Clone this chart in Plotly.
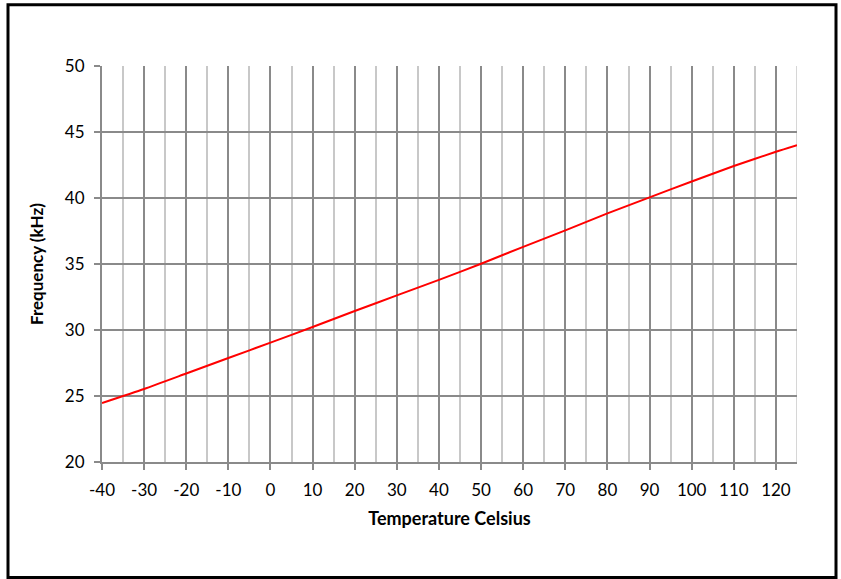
import plotly.graph_objects as go

# Oscillator frequency versus temperature
temperature_c = [-40, -30, -20, -10, 0, 10, 20, 30, 40, 50, 60, 70, 80, 90, 100, 110, 120, 125]
frequency_khz = [24.47, 25.53, 26.70, 27.88, 29.04, 30.23, 31.44, 32.62, 33.80, 35.02,
                 36.30, 37.55, 38.83, 40.05, 41.25, 42.42, 43.50, 44.00]

x_ticks = list(range(-40, 121, 10))
y_ticks = list(range(20, 51, 5))

FONT = "Lato"
MAJOR = "#8a8a8a"
MINOR = "#c8c8c8"

fig = go.Figure(
    go.Scatter(
        x=temperature_c,
        y=frequency_khz,
        mode="lines",
        line=dict(color="#ff0000", width=2, shape="spline", smoothing=0.6),
        hoverinfo="x+y",
    )
)

fig.update_layout(
    width=841,
    height=579,
    margin=dict(l=102, r=44, t=66, b=117),
    paper_bgcolor="white",
    plot_bgcolor="white",
    showlegend=False,
    font=dict(family=FONT, size=17, color="#000000"),
    xaxis=dict(
        range=[-40, 125],
        tickmode="array",
        tickvals=x_ticks,
        ticktext=[str(v) for v in x_ticks],
        showgrid=True,
        gridcolor=MAJOR,
        gridwidth=1.5,
        minor=dict(dtick=5, tick0=-35, showgrid=True, gridcolor=MINOR, gridwidth=1.5, ticks=""),
        ticks="outside",
        ticklen=6,
        tickcolor=MAJOR,
        tickwidth=1.5,
        ticklabelstandoff=6,
        showline=True,
        linecolor=MAJOR,
        linewidth=2,
        zeroline=False,
        tickfont=dict(family=FONT, size=17),
        title=dict(text="<b>Temperature Celsius</b>", font=dict(family=FONT, size=18), standoff=13),
    ),
    yaxis=dict(
        range=[20, 50],
        tickmode="array",
        tickvals=y_ticks,
        ticktext=[str(v) for v in y_ticks],
        showgrid=True,
        gridcolor=MAJOR,
        gridwidth=1.5,
        ticks="outside",
        ticklen=6,
        tickcolor=MAJOR,
        tickwidth=1.5,
        ticklabelstandoff=6,
        showline=True,
        linecolor=MAJOR,
        linewidth=2,
        zeroline=False,
        tickfont=dict(family=FONT, size=17),
        title=dict(text="<b>Frequency (kHz)</b>", font=dict(family=FONT, size=17), standoff=17),
    ),
    shapes=[
        # right edge of the plotting area
        dict(type="line", xref="x", yref="y", x0=125, x1=125, y0=20, y1=50,
             line=dict(color=MINOR, width=1.5), layer="below"),
        # frame around the whole chart
        dict(type="rect", xref="paper", yref="paper",
             x0=(8 - 102) / 695, x1=(836 - 102) / 695,
             y0=(462 - 577.5) / 396, y1=1 + (66 - 4.7) / 396,
             line=dict(color="#000000", width=3), fillcolor="rgba(0,0,0,0)"),
    ],
)

fig.write_html("out.html")
